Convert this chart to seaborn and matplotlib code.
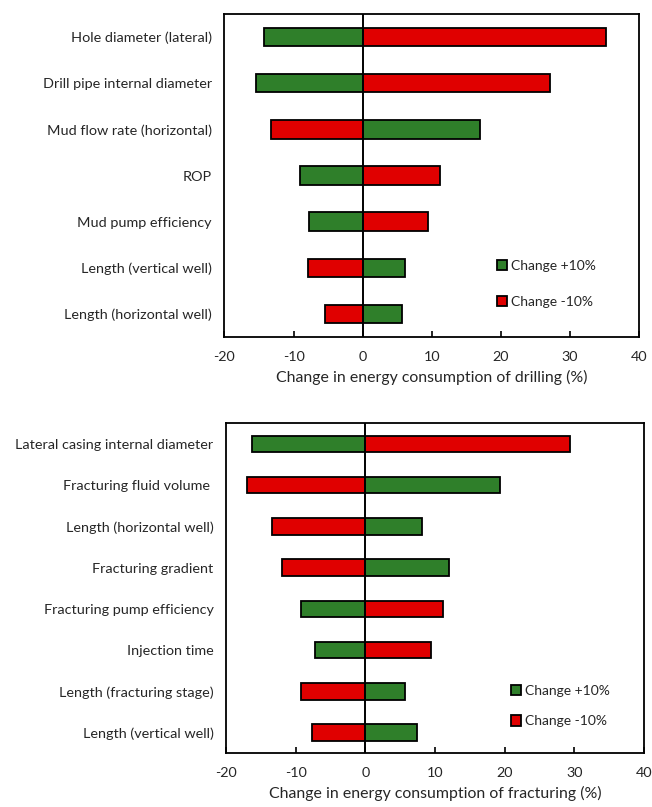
import matplotlib
matplotlib.use("Agg")
import matplotlib.pyplot as plt
import seaborn as sns
import pandas as pd

sns.set_theme(style="white")
plt.rcParams["font.family"] = ["Lato", "DejaVu Sans"]

GREEN = "#2f7f2a"
RED = "#e00000"
TEXT = "#262626"

series_names = ["Change +10%", "Change -10%"]

# Drilling sensitivity
drill_params = [
    "Hole diameter (lateral)",
    "Drill pipe internal diameter",
    "Mud flow rate (horizontal)",
    "ROP",
    "Mud pump efficiency",
    "Length (vertical well)",
    "Length (horizontal well)",
]
drill_plus10 = [-14.3, -15.5, 17.0, -9.1, -7.7, 6.2, 5.7]
drill_minus10 = [35.3, 27.1, -13.3, 11.2, 9.5, -7.9, -5.4]

# Fracturing sensitivity
frac_params = [
    "Lateral casing internal diameter",
    "Fracturing fluid volume ",
    "Length (horizontal well)",
    "Fracturing gradient",
    "Fracturing pump efficiency",
    "Injection time",
    "Length (fracturing stage)",
    "Length (vertical well)",
]
frac_plus10 = [-16.2, 19.3, 8.1, 12.0, -9.2, -7.2, 5.7, 7.4]
frac_minus10 = [29.4, -17.0, -13.4, -11.9, 11.1, 9.5, -9.2, -7.6]

x_ticks = [-20, -10, 0, 10, 20, 30, 40]


def long_table(params, plus, minus):
    rows = []
    for p, a, b in zip(params, plus, minus):
        rows.append({"param": p, "series": series_names[0], "value": a})
        rows.append({"param": p, "series": series_names[1], "value": b})
    return pd.DataFrame(rows)


def tornado(ax, params, plus, minus, xlabel, legend_anchor, legend_gap):
    df = long_table(params, plus, minus)
    sns.barplot(
        data=df, x="value", y="param", hue="series", order=params,
        hue_order=series_names, palette=[GREEN, RED], dodge=False,
        width=0.4, orient="h", edgecolor="black", linewidth=1.3,
        saturation=1, ax=ax, legend=True,
    )
    ax.axvline(0, color="black", lw=1.4, zorder=5)
    ax.set_xlim(-20, 40)
    ax.set_ylim(len(params) - 0.5, -0.5)
    ax.set_xticks(x_ticks)
    ax.set_xticklabels([str(t) for t in x_ticks])
    ax.tick_params(axis="x", direction="in", length=4, width=1.2,
                   bottom=True, colors="black", labelcolor=TEXT,
                   labelsize=10.4, pad=10)
    ax.tick_params(axis="y", length=0, labelcolor=TEXT, labelsize=10.4, pad=9)
    ax.set_xlabel(xlabel, fontsize=11.4, color=TEXT, labelpad=5)
    ax.set_ylabel("")
    for s in ax.spines.values():
        s.set_visible(True)
        s.set_color("black")
        s.set_linewidth(1.3)
    ax.grid(False)
    ax.legend(
        loc="upper left", bbox_to_anchor=legend_anchor, frameon=False,
        fontsize=10, handlelength=0.75, handleheight=0.75,
        handletextpad=0.3, labelspacing=legend_gap, labelcolor=TEXT,
    )


fig = plt.figure(figsize=(6.52, 8.07), dpi=100)
ax1 = fig.add_axes([0.3443, 0.5824, 0.6357, 0.4002])
ax2 = fig.add_axes([0.3466, 0.0665, 0.6411, 0.4089])

tornado(ax1, drill_params, drill_plus10, drill_minus10,
        "Change in energy consumption of drilling (%)", (0.627, 0.278), 1.75)
tornado(ax2, frac_params, frac_plus10, frac_minus10,
        "Change in energy consumption of fracturing (%)", (0.651, 0.246), 1.35)

fig.savefig("out.png", dpi=100)
